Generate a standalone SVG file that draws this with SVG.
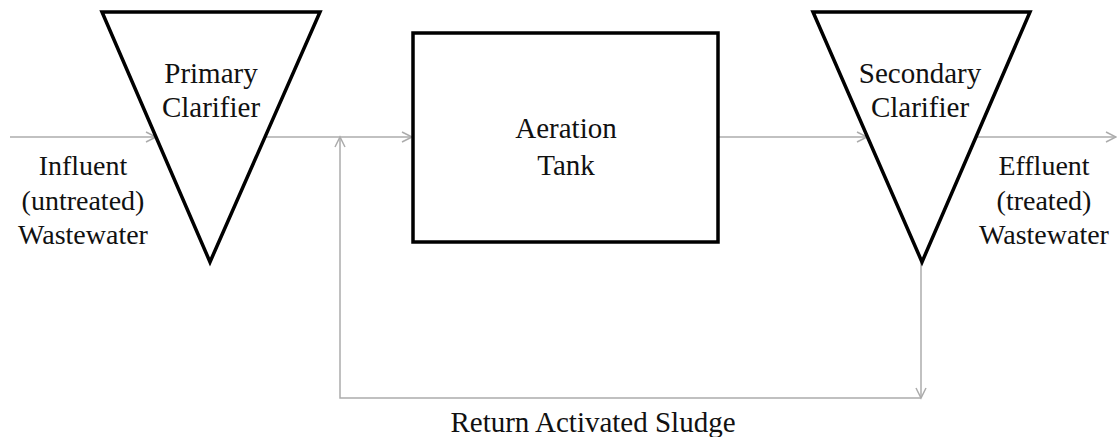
<svg xmlns="http://www.w3.org/2000/svg" width="1117" height="437" viewBox="0 0 1117 437">
<style>
.shape{fill:#fff;stroke:#000;stroke-width:3.5;stroke-linejoin:miter}
.flow{fill:none;stroke:#acacac;stroke-width:1.5}
.lbl{font-family:'Liberation Serif','Times New Roman',serif;font-size:29px;fill:#111;text-anchor:middle}
.side{font-size:28px}
</style>
<defs>
<marker id="arr" markerUnits="userSpaceOnUse" markerWidth="14" markerHeight="14" refX="12" refY="7" orient="auto" viewBox="0 0 14 14">
<path d="M2,2 L12,7 L2,12" fill="none" stroke="#acacac" stroke-width="1.5"/>
</marker>
</defs>
<rect width="1117" height="437" fill="#fff"/>
<g id="connectors">
<path class="flow" d="M10,137 L156,137" marker-end="url(#arr)"/>
<path class="flow" d="M265,137 L412,137" marker-end="url(#arr)"/>
<path class="flow" d="M719,137 L867,137" marker-end="url(#arr)"/>
<path class="flow" d="M976,137 L1116,137" marker-end="url(#arr)"/>
<path class="flow" d="M921,262 L921,398" marker-end="url(#arr)"/>
<path class="flow" d="M921,398 L340,398 L340,137" marker-end="url(#arr)"/>
</g>
<g id="primary-clarifier">
<polygon class="shape" points="102,12 320,12 210,262"/>
<text class="lbl" x="211" y="83">Primary</text>
<text class="lbl" x="211" y="117">Clarifier</text>
</g>
<g id="aeration-tank">
<rect class="shape" x="413" y="33" width="305" height="209"/>
<text class="lbl" x="566" y="138">Aeration</text>
<text class="lbl" x="566" y="175">Tank</text>
</g>
<g id="secondary-clarifier">
<polygon class="shape" points="813,12 1030,12 922,262"/>
<text class="lbl" x="920" y="83">Secondary</text>
<text class="lbl" x="920" y="117">Clarifier</text>
</g>
<g id="influent">
<text class="lbl side" x="83" y="175">Influent</text>
<text class="lbl side" x="83" y="210">(untreated)</text>
<text class="lbl side" x="83" y="244">Wastewater</text>
</g>
<g id="effluent">
<text class="lbl side" x="1044" y="175">Effluent</text>
<text class="lbl side" x="1044" y="210">(treated)</text>
<text class="lbl side" x="1044" y="244">Wastewater</text>
</g>
<g id="return-label">
<text class="lbl" x="593" y="432">Return Activated Sludge</text>
</g>
</svg>
